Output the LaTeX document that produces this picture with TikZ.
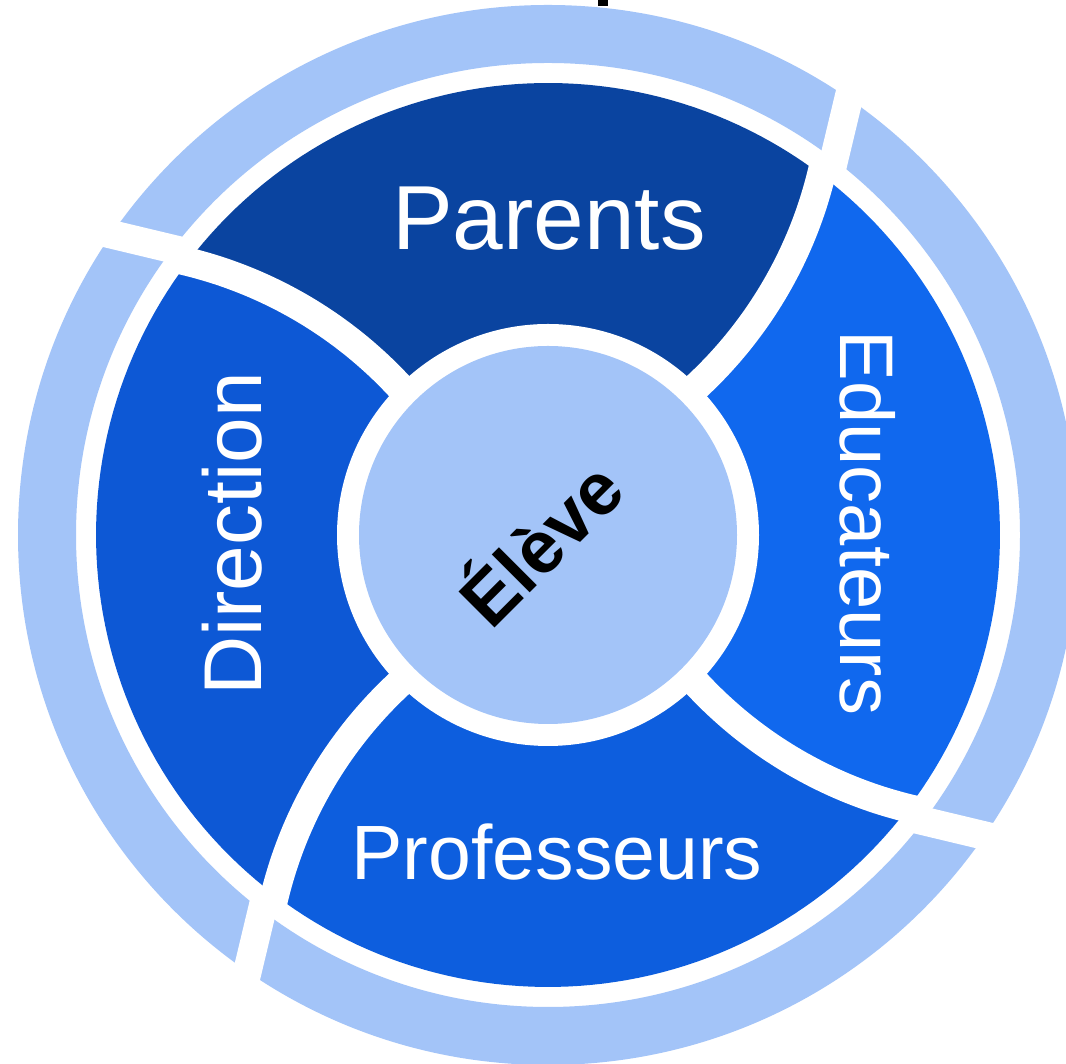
\documentclass[tikz,border=0pt]{standalone}
\usepackage{fontspec}
\setmainfont{Liberation Sans}
\definecolor{cparents}{RGB}{10,68,160}
\definecolor{ceduc}{RGB}{16,104,238}
\definecolor{cdir}{RGB}{13,88,213}
\definecolor{cprof}{RGB}{13,94,222}
\definecolor{clight}{RGB}{163,196,248}
\begin{document}
\begin{tikzpicture}[x=1pt,y=1pt,
  declare function={
    gx(\p,\q)=484.6*cos(\q+62.2)+429*cos(\p+\q-45);
    gy(\p,\q)=484.6*sin(\q+62.2)+429*sin(\p+\q-45);},
  gapline/.style={draw=white,line width=28.5pt},
  lbl/.style={text=white,inner sep=0pt,anchor=base}]
\useasboundingbox (0,0) rectangle (1066,1064);
\fill[white] (0,0) rectangle (1066,1064);
% title fragment at the top edge
\fill[black] (598,1058) rectangle (608,1064);
\begin{scope}[shift={(548,529)}]
  \coordinate (c) at (0,0);
  % outer light ring
  \fill[clight,even odd rule] (c) circle[radius=530pt] (c) circle[radius=472pt];
  % segments
  \foreach \a/\col in {45/cparents,135/cdir,225/cprof,315/ceduc}{
    \pgfmathsetmacro\b{\a+90}
    \fill[\col] (c) -- plot[domain=-49.2:-13.9,samples=40] ({gx(\x,\a)},{gy(\x,\a)})
      -- plot[domain=0:90,samples=60] ({\a+7.8+\x}:452pt)
      -- plot[domain=-13.9:-49.2,samples=40] ({gx(\x,\b)},{gy(\x,\b)}) -- cycle;
  }
  % white ring round the centre
  \fill[white] (c) circle[radius=211pt];
  % white separators
  \foreach \a in {45,135,225,315}{
    \draw[gapline] plot[domain=-52:-12.4,samples=50] ({gx(\x,\a)},{gy(\x,\a)});
    \begin{scope}[rotate=\a-45]
      \coordinate (g1) at (283.7,365.8);
      \coordinate (g2) at (307.5,465.3);
      \draw[gapline] (g1) -- (g2);
    \end{scope}
  }
  % centre disk
  \fill[clight] (c) circle[radius=189pt];
\end{scope}
\node[lbl,font=\fontsize{91}{100}\selectfont] (parents) at (549,814) {Parents};
\node[lbl,font=\fontsize{77}{85}\selectfont] (prof) at (557,184) {Professeurs};
\node[lbl,font=\fontsize{82}{90}\selectfont,rotate=90] (dir) at (261,530) {Direction};
\node[lbl,font=\fontsize{76}{85}\selectfont,rotate=-90] (educ) at (840,541) {Educateurs};
\node[inner sep=0pt,anchor=base,rotate=45,font=\bfseries\fontsize{74}{80}\selectfont] (eleve) at (560,501) {Élève};
\end{tikzpicture}
\end{document}
